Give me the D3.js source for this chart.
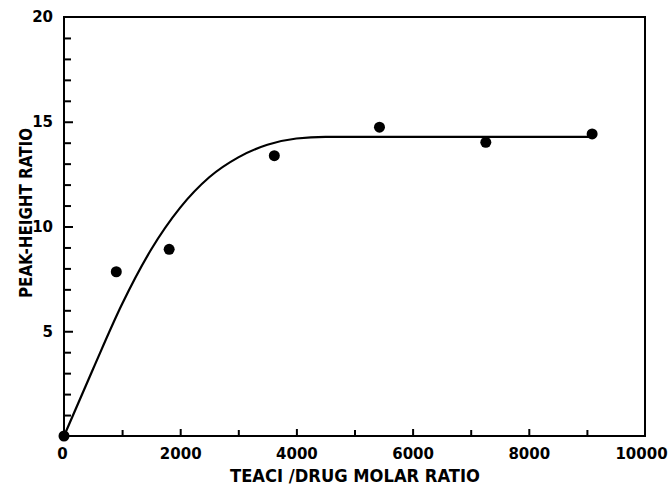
<!DOCTYPE html>
<html>
<head>
<meta charset="utf-8">
<script src="https://cdn.jsdelivr.net/npm/d3@7"></script>
<style>
  html, body { margin: 0; padding: 0; background: #fff; }
  svg { display: block; }
  text { font-family: "DejaVu Sans", "Liberation Sans", sans-serif; font-weight: bold; fill: #000; }
</style>
</head>
<body>
<svg id="chart" width="669" height="486"></svg>
<script>
// Measured data points
const pointX = [0, 900, 1810, 3620, 5430, 7260, 9090];
const pointY = [0, 7.84, 8.91, 13.38, 14.74, 14.02, 14.42];

// Fitted curve
const curveX = [0, 500, 1000, 1500, 2000, 2500, 3000, 3500, 4000, 4500, 9090];
const curveY = [0, 3.2, 6.3, 8.9, 10.9, 12.35, 13.3, 13.9, 14.2, 14.28, 14.28];

// Ticks
const xMajorTicks = [0, 2000, 4000, 6000, 8000, 10000];
const xMinorTicks = [1000, 3000, 5000, 7000, 9000];
const yMajorTicks = [5, 10, 15, 20];
const yMinorTicks = [1, 2, 3, 4, 6, 7, 8, 9, 11, 12, 13, 14, 16, 17, 18, 19];

const xTitle = "TEACI /DRUG MOLAR RATIO";
const yTitle = "PEAK-HEIGHT RATIO";

const svg = d3.select("#chart");
const mLeft = 64, mRight = 645, mTop = 17, mBottom = 436;

const x = d3.scaleLinear().domain([0, 10000]).range([mLeft, mRight]);
const y = d3.scaleLinear().domain([0, 20]).range([mBottom, mTop]);

// Frame
svg.append("rect")
  .attr("x", mLeft).attr("y", mTop)
  .attr("width", mRight - mLeft).attr("height", mBottom - mTop)
  .attr("fill", "none").attr("stroke", "#000").attr("stroke-width", 2);

// X axis ticks (inward)
const gx = svg.append("g").attr("transform", `translate(0,${mBottom})`)
  .call(d3.axisBottom(x).tickValues(xMajorTicks).tickSize(-7).tickFormat(d => d).tickPadding(12));
gx.select(".domain").remove();
gx.selectAll("line").attr("stroke-width", 2);
gx.selectAll("text").attr("font-size", 15).attr("font-family", "DejaVu Sans").attr("font-weight", "bold")
  .attr("dx", d => d === 10000 ? -4 : (d === 0 ? -2 : 0));
gx.selectAll(".tick").filter(d => d === 0 || d === 10000).select("line").remove();
const gxm = svg.append("g").attr("transform", `translate(0,${mBottom})`)
  .call(d3.axisBottom(x).tickValues(xMinorTicks).tickSize(-6).tickFormat(""));
gxm.select(".domain").remove();
gxm.selectAll("line").attr("stroke-width", 2);

// Y axis ticks (inward)
const gy = svg.append("g").attr("transform", `translate(${mLeft},0)`)
  .call(d3.axisLeft(y).tickValues(yMajorTicks).tickSize(-9).tickFormat(d => d).tickPadding(11));
gy.select(".domain").remove();
gy.selectAll("line").attr("stroke-width", 2);
gy.selectAll("text").attr("font-size", 15).attr("font-family", "DejaVu Sans").attr("font-weight", "bold");
gy.selectAll(".tick").filter(d => d === 20).select("line").remove();
const gym = svg.append("g").attr("transform", `translate(${mLeft},0)`)
  .call(d3.axisLeft(y).tickValues(yMinorTicks).tickSize(-7).tickFormat(""));
gym.select(".domain").remove();
gym.selectAll("line").attr("stroke-width", 2);

// Curve
const curveData = curveX.map((v, i) => [v, curveY[i]]);
svg.append("path")
  .datum(curveData)
  .attr("fill", "none").attr("stroke", "#000").attr("stroke-width", 2.2)
  .attr("d", d3.line().x(d => x(d[0])).y(d => y(d[1])).curve(d3.curveMonotoneX));

// Points
svg.append("g").selectAll("circle")
  .data(pointX.map((v, i) => [v, pointY[i]]))
  .join("circle")
  .attr("cx", d => x(d[0])).attr("cy", d => y(d[1]))
  .attr("r", 5.5).attr("fill", "#000");

// Axis titles
svg.append("text")
  .attr("x", 230).attr("y", 482)
  .attr("font-size", 17)
  .attr("textLength", 250).attr("lengthAdjust", "spacingAndGlyphs")
  .text(xTitle);

svg.append("text")
  .attr("transform", "translate(32,298) rotate(-90)")
  .attr("x", 0).attr("y", 0)
  .attr("font-size", 17)
  .attr("textLength", 170).attr("lengthAdjust", "spacingAndGlyphs")
  .text(yTitle);
</script>
</body>
</html>
